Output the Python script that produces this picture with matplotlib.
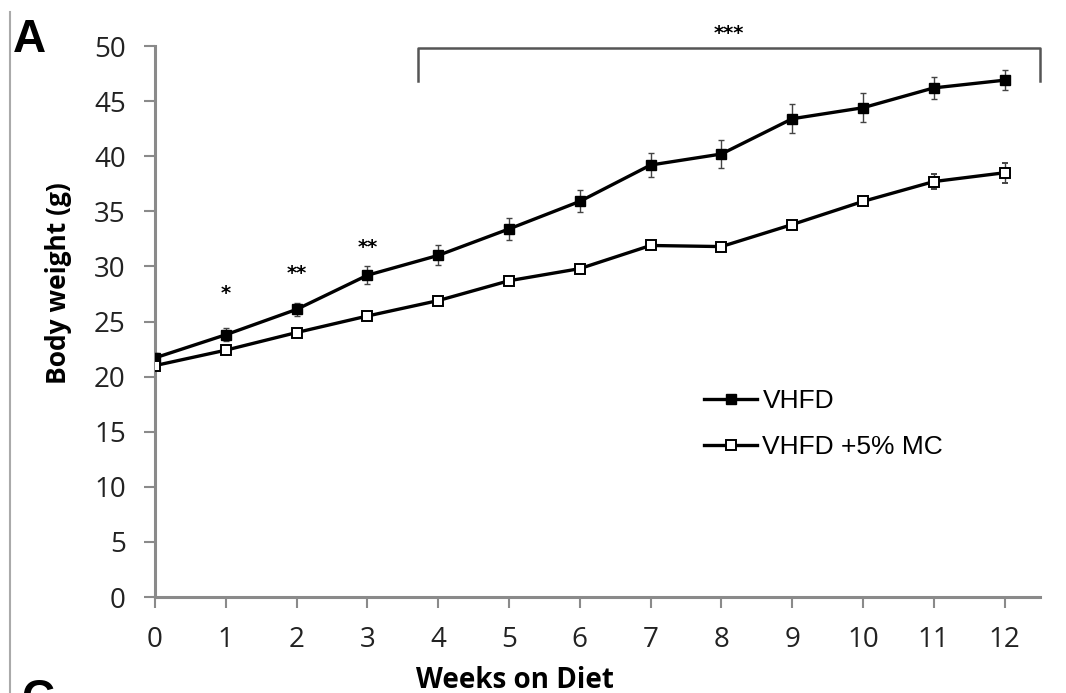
import matplotlib.pyplot as plt
from matplotlib.lines import Line2D

weeks = list(range(13))
vhfd = [21.7, 23.8, 26.1, 29.2, 31.0, 33.4, 35.9, 39.2, 40.2, 43.4, 44.4, 46.2, 46.9]
vhfd_err = [0.4, 0.6, 0.6, 0.8, 0.9, 1.0, 1.0, 1.1, 1.3, 1.3, 1.3, 1.0, 0.9]
vhfd_mc = [21.0, 22.4, 24.0, 25.5, 26.9, 28.7, 29.8, 31.9, 31.8, 33.8, 35.9, 37.7, 38.5]
vhfd_mc_err = [0.3, 0.3, 0.3, 0.3, 0.3, 0.3, 0.3, 0.3, 0.3, 0.3, 0.4, 0.7, 0.9]
star_weeks = [1, 2, 3]
star_labels = ["*", "**", "**"]
star_y = [27.5, 29.4, 31.7]
yticks = list(range(0, 51, 5))

tick_font = "Open Sans"
label_font = "Open Sans"
legend_font = "Liberation Sans"
grey = "#8a8a8a"

fig = plt.figure(figsize=(10.66, 6.93), dpi=100)
ax = fig.add_axes([0.1454, 0.1385, 0.8302, 0.7951])

ax.errorbar(weeks, vhfd, yerr=vhfd_err, color="black", lw=2.4, marker="s",
            ms=7, mfc="black", mec="black", ecolor="#444444", elinewidth=1,
            capsize=2.5, label="VHFD", zorder=3)
ax.errorbar(weeks, vhfd_mc, yerr=vhfd_mc_err, color="black", lw=2.4, marker="s",
            ms=6.5, mfc="white", mec="black", mew=1.4, ecolor="#444444",
            elinewidth=1, capsize=2.5, label="VHFD +5% MC", zorder=3)

ax.set_xlim(0, 12.5)
ax.set_ylim(0, 50)
ax.set_xticks(weeks)
ax.set_yticks(yticks)
ax.tick_params(axis="both", direction="out", length=8, width=1.5, color=grey,
               labelsize=20, pad=13)
for lab in ax.get_xticklabels() + ax.get_yticklabels():
    lab.set_family(tick_font)
    lab.set_color("#222222")

for s in ["top", "right"]:
    ax.spines[s].set_visible(False)
for s in ["left", "bottom"]:
    ax.spines[s].set_color(grey)
    ax.spines[s].set_linewidth(2.2)

ax.set_xlabel("Weeks on Diet", fontsize=20, fontweight="bold", family=label_font)
ax.set_ylabel("Body weight (g)", fontsize=19, fontweight="bold", family=label_font)
ax.xaxis.set_label_coords(0.407, -0.125)
ax.yaxis.set_label_coords(-0.094, 0.57)

# significance marks
for w, lab, yv in zip(star_weeks, star_labels, star_y):
    ax.text(w, yv, lab, ha="center", va="center", fontsize=14, fontweight="bold")
ax.plot([3.72, 3.72, 12.5, 12.5], [46.8, 49.8, 49.8, 46.8], color="#555555",
        lw=1.8, clip_on=False)
ax.text(8.1, 51.1, "***", ha="center", va="center", fontsize=14,
        fontweight="bold", clip_on=False)

handles = [
    Line2D([], [], color="black", lw=2.4, marker="s", ms=7, mfc="black"),
    Line2D([], [], color="black", lw=2.4, marker="s", ms=6.5, mfc="white",
           mew=1.4),
]
leg = ax.legend(handles, ["VHFD", "VHFD +5% MC"], loc="upper left",
                bbox_to_anchor=(0.594, 0.42), frameon=False, handlelength=2.0,
                handletextpad=0.2, labelspacing=0.83,
                prop={"family": legend_font, "size": 19})

fig.text(0.012, 0.925, "A", fontsize=33, fontweight="bold",
         family="Liberation Sans", va="baseline")
fig.text(0.02, -0.028, "C", fontsize=33, fontweight="bold",
         family="Liberation Sans", va="baseline")
fig.add_artist(Line2D([0.0095, 0.0095], [0.0, 0.983], color="#aaaaaa", lw=1.5))

fig.savefig("out.png", dpi=100)
